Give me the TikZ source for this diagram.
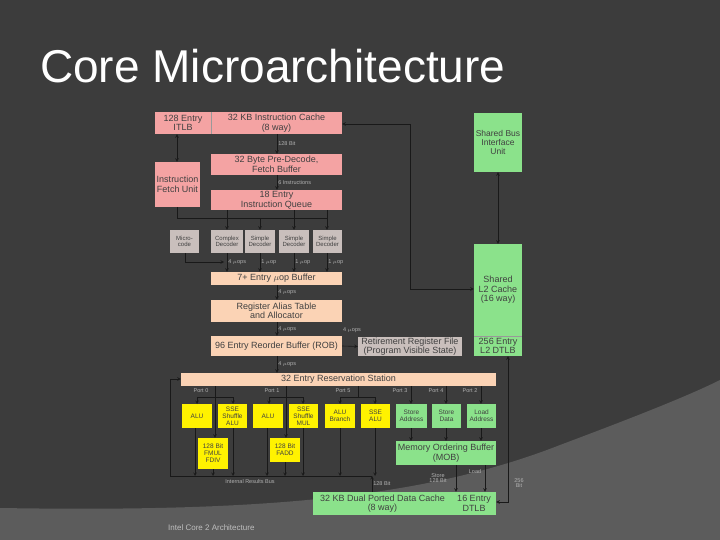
\documentclass[tikz,border=0pt]{standalone}
\usepackage{fontspec}
\setmainfont{Liberation Sans}
\begin{document}
\begin{tikzpicture}[x=1pt,y=-1pt,
 bx/.style={draw=none,inner sep=0pt,align=center,font=\fontsize{9}{9.5}\selectfont,text=black!75},
 pk/.style={bx,fill=pinkc},pe/.style={bx,fill=peachc},gy/.style={bx,fill=grayc},
 gn/.style={bx,fill=greenc},yl/.style={bx,fill=yellow,font=\fontsize{6.5}{7}\selectfont},
 sm/.style={font=\fontsize{5.5}{5.5}\selectfont,text=black!30,inner sep=1pt},
 ln/.style={draw=black!90,line width=0.6pt},
 ar/.style={ln,-stealth},
]
\definecolor{pinkc}{HTML}{F4A3A3}\definecolor{peachc}{HTML}{FBD3B5}
\definecolor{grayc}{HTML}{C9BFBC}\definecolor{greenc}{HTML}{8BE28B}
\definecolor{bgd}{HTML}{3C3C3C}\definecolor{bgl}{HTML}{5C5C5C}
\useasboundingbox (0,0) rectangle (720,540);
\fill[bgd] (0,0) rectangle (720,540);
\fill[bgl] (0,508) .. controls (250,512) and (420,500) .. (560,445) .. controls (640,415) and (690,395) .. (720,380) -- (720,540) -- (0,540) -- cycle;
\node[anchor=base west,text=white,font=\fontsize{46}{48}\selectfont,inner sep=0pt] (title) at (40,83) {Core Microarchitecture};
\newcommand{\bxx}[6]{\node[#1,minimum width=#4-#2,minimum height=#5-#3] (#6) at ({(#2+#4)/2},{(#3+#5)/2})}
\bxx{pk}{155}{112}{211}{134}{itlb} {128 Entry\\ITLB};
\bxx{pk}{211}{112}{342}{134}{icache} {32 KB Instruction Cache\\(8 way)};
\draw[black!40,line width=0.5pt] (211,112)--(211,134);
\bxx{pk}{211}{154}{342}{175}{pre} {32 Byte Pre-Decode,\\Fetch Buffer};
\bxx{pk}{155}{162}{200}{207}{ifu} {Instruction\\Fetch Unit};
\bxx{pk}{211}{190}{342}{210}{iq} {18 Entry\\Instruction Queue};
\bxx{gy,font=\fontsize{6}{6.5}\selectfont}{170}{230}{199}{253}{mc} {Micro-\\code};
\bxx{gy,font=\fontsize{6}{6.5}\selectfont}{211}{230}{243}{253}{cd} {Complex\\Decoder};
\bxx{gy,font=\fontsize{6}{6.5}\selectfont}{245}{230}{275}{253}{sd1} {Simple\\Decoder};
\bxx{gy,font=\fontsize{6}{6.5}\selectfont}{279}{230}{309}{253}{sd2} {Simple\\Decoder};
\bxx{gy,font=\fontsize{6}{6.5}\selectfont}{313}{230}{342}{253}{sd3} {Simple\\Decoder};
\bxx{pe}{211}{272}{342}{285}{ub} {7+ Entry $\mu$op Buffer};
\bxx{pe}{211}{300}{342}{322}{rat} {Register Alias Table\\and Allocator};
\bxx{pe}{211}{336}{342}{356}{rob} {96 Entry Reorder Buffer (ROB)};
\bxx{gy}{358}{337}{462}{356}{rrf} {Retirement Register File\\(Program Visible State)};
\bxx{gn,font=\fontsize{8.5}{9}\selectfont}{474}{113}{522}{172}{biu} {Shared Bus\\Interface\\Unit};
\bxx{gn}{474}{244}{522}{336}{l2} {Shared\\L2 Cache\\(16 way)};
\bxx{gn}{474}{336}{522}{356}{l2t} {256 Entry\\L2 DTLB};
\draw[black!40,line width=0.5pt] (474,336)--(522,336);
\bxx{pe}{181}{373}{496}{386}{rs} {32 Entry Reservation Station};
\bxx{yl}{182}{404}{212}{428}{alu0} {ALU};
\bxx{yl}{218}{404}{247}{428}{sse0} {SSE\\Shuffle\\ALU};
\bxx{yl}{253}{404}{283}{428}{alu1} {ALU};
\bxx{yl}{289}{404}{318}{428}{sse1} {SSE\\Shuffle\\MUL};
\bxx{yl}{325}{404}{355}{428}{alu5} {ALU\\Branch};
\bxx{yl}{361}{404}{390}{428}{sse5} {SSE\\ALU};
\bxx{gn,font=\fontsize{6.5}{7}\selectfont}{396}{404}{427}{428}{sta} {Store\\Address};
\bxx{gn,font=\fontsize{6.5}{7}\selectfont}{432}{404}{461}{428}{std} {Store\\Data};
\bxx{gn,font=\fontsize{6.5}{7}\selectfont}{467}{404}{496}{428}{lda} {Load\\Address};
\bxx{yl}{198}{438}{228}{469}{fmul} {128 Bit\\FMUL\\FDIV};
\bxx{yl}{270}{438}{300}{462}{fadd} {128 Bit\\FADD};
\bxx{gn}{396}{441}{496}{465}{mob} {Memory Ordering Buffer\\(MOB)};
\bxx{gn}{313}{492}{452}{515}{dc} {32 KB Dual Ported Data Cache\\(8 way)};
\bxx{gn}{452}{492}{496}{515}{dt} {16 Entry\\DTLB};
\node[anchor=west,text=black!25,font=\fontsize{8}{8}\selectfont,inner sep=0pt] (cap) at (168,528) {Intel Core 2 Architecture};
% front end
\draw[ln,stealth-stealth] (itlb.south -| 177,0) -- (ifu.north -| 177,0);
\draw[ar] (icache.south -| 277,0) -- (pre.north -| 277,0) node[sm,midway,right] {128 Bit};
\draw[ar] (pre.south -| 277,0) -- (iq.north -| 277,0) node[sm,midway,right] {6 Instructions};
\coordinate (q1) at (177,218); \coordinate (q2) at (327,218);
\draw[ln] (ifu.south -| 177,0) -- (q1) -- (q2);
\draw[ar] (iq.south -| 227,0) -- (cd.north -| 227,0);
\draw[ar] (iq.south -| 294,0) -- (sd2.north -| 294,0);
\draw[ar] (260,218) -- (sd1.north -| 260,0);
\draw[ar] (q2) -- (sd3.north -| 327,0);
\draw[ln] (iq.south -| 327,0) -- (q2);
\draw[ar] (cd.south -| 227,0) -- (ub.north -| 227,0) node[sm,midway,right] {4 $\mu$ops};
\draw[ar] (sd1.south -| 260,0) -- (ub.north -| 260,0) node[sm,midway,right] {1 $\mu$op};
\draw[ar] (sd2.south -| 294,0) -- (ub.north -| 294,0) node[sm,midway,right] {1 $\mu$op};
\draw[ar] (sd3.south -| 327,0) -- (ub.north -| 327,0) node[sm,midway,right] {1 $\mu$op};
\coordinate (m1) at (185,262);
\draw[ar] (mc.south -| 185,0) -- (m1) -- (224,262);
\draw[ar] (ub.south -| 277,0) -- (rat.north -| 277,0) node[sm,midway,right] {4 $\mu$ops};
\draw[ar] (rat.south -| 277,0) -- (rob.north -| 277,0) node[sm,midway,right] {4 $\mu$ops};
\draw[ar] (rob.east) -- (rrf.west);
\node[sm] (lrr) at (352,330) {4 $\mu$ops};
\draw[ar] (rob.south -| 277,0) -- (rs.north -| 277,0) node[sm,midway,right] {4 $\mu$ops};
% L2 connections
\coordinate (c1) at (410,289); \coordinate (c2) at (410,124);
\draw[ln,stealth-stealth] (l2.west |- c1) -- (c1) -- (c2) -- (icache.east |- c2);
\draw[ln,stealth-stealth] (biu.south -| 498,0) -- (l2.north -| 498,0);
\coordinate (d1) at (508,502);
\draw[ln,stealth-stealth] (l2t.south -| 508,0) -- (d1) -- (dt.east |- d1);
\node[sm,align=center] (lb256) at (519,483) {256\\Bit};
% RS feedback
\coordinate (b0) at (170,476); \coordinate (b1) at (372,476); \coordinate (r0) at (170,379);
\draw[ln] (b0) -- (b1);
\draw[ar] (b0) -- (r0) -- (rs.west |- r0);
\node[sm] (ibus) at (250,482) {Internal Results Bus};
% ports
\node[sm] (p0) at (201,391) {Port 0};
\node[sm] (p1) at (272,391) {Port 1};
\node[sm] (p5) at (343,391) {Port 5};
\node[sm] (p3) at (400,391) {Port 3};
\node[sm] (p4) at (436,391) {Port 4};
\node[sm] (p2) at (470,391) {Port 2};
\foreach \a/\b/\m in {197/233/215, 269/303/286, 340/375/358}{
  \draw[ln] (\m,386) -- (\m,397);
  \draw[ar] (\a,397) -- (\a,404);
  \draw[ar] (\b,397) -- (\b,404);
  \draw[ln] (\a,397) -- (\b,397);
}
\draw[ar] (215,397) -- (fmul.north -| 215,0);
\draw[ar] (286,397) -- (fadd.north -| 286,0);
\draw[ar] (rs.south -| 411,0) -- (sta.north -| 411,0);
\draw[ar] (rs.south -| 446,0) -- (std.north -| 446,0);
\draw[ar] (rs.south -| 481,0) -- (lda.north -| 481,0);
% to bus
\draw[ar] (alu0.south -| 195,0) -- (195,476);
\draw[ar] (fmul.south -| 213,0) -- (213,476);
\draw[ar] (sse0.south -| 233,0) -- (233,476);
\draw[ar] (alu1.south -| 267,0) -- (267,476);
\draw[ar] (fadd.south -| 285,0) -- (285,476);
\draw[ar] (sse1.south -| 303,0) -- (303,476);
\draw[ar] (alu5.south -| 340,0) -- (340,476);
\draw[ar] (sse5.south -| 375,0) -- (375,476);
\draw[ar] (dc.north -| 372,0) -- (b1) node[sm,midway,right] {128 Bit};
% memory
\draw[ar] (sta.south -| 411,0) -- (mob.north -| 411,0);
\draw[ar] (std.south -| 446,0) -- (mob.north -| 446,0);
\draw[ar] (lda.south -| 481,0) -- (mob.north -| 481,0);
\draw[ar] (mob.south -| 456,0) -- (dt.north -| 456,0);
\draw[ar] (mob.south -| 485,0) -- (dt.north -| 485,0);
\node[sm,align=center] (lst) at (438,478) {Store\\128 Bit};
\node[sm] (lld) at (475,472) {Load};
\end{tikzpicture}
\end{document}
